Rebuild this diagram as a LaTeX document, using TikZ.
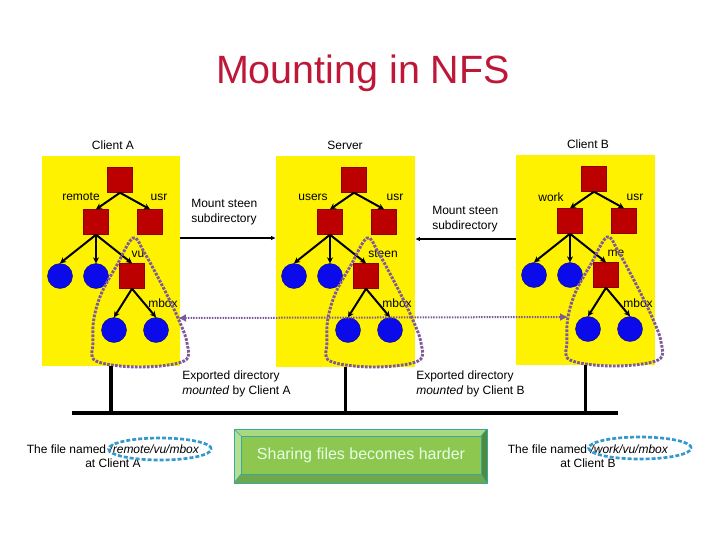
\documentclass[tikz,border=0pt]{standalone}
\usepackage{fontspec}
\setmainfont{Liberation Sans}
\usetikzlibrary{arrows.meta,calc,shapes.geometric}
\definecolor{titlered}{RGB}{190,24,56}
\definecolor{sqred}{RGB}{188,0,0}
\definecolor{cblue}{RGB}{10,10,235}
\definecolor{loopc}{RGB}{126,90,155}
\definecolor{ellc}{RGB}{51,153,204}
\definecolor{gface}{RGB}{141,199,79}
\definecolor{gtop}{RGB}{169,217,127}
\definecolor{gleft}{RGB}{181,224,143}
\definecolor{gright}{RGB}{79,139,63}
\definecolor{gbot}{RGB}{110,168,74}
\definecolor{gline}{RGB}{58,166,166}
\newcommand\fstree[3]{%
\begin{scope}[shift={(#2,#3)}]
 \node[sq] (#1r) at (0,0) {};
 \node[sq] (#1a) at (-24,42) {};
 \node[sq] (#1b) at (30,42) {};
 \node[circ] (#1c) at (-60,96) {};
 \node[circ] (#1e) at (-24,96) {};
 \node[sq] (#1d) at (12,96) {};
 \node[circ] (#1f) at (-6,150) {};
 \node[circ] (#1g) at (36,150) {};
 \draw[tedge] (#1r.south) -- (#1a.north);
 \draw[tedge] (#1r.south) -- (#1b.north);
 \draw[tedge] (#1a.south) -- (#1c.north);
 \draw[tedge] (#1a.south) -- (#1e.north);
 \draw[tedge] (#1a.south) -- (#1d.north);
 \draw[tedge] (#1d.south) -- (#1f.north);
 \draw[tedge] (#1d.south) -- (#1g.north);
 \draw[loopline] plot[smooth cycle, tension=0.6] coordinates {(13,58) (24,72) (43,107) (58,138) (67,163) (64,181) (20,187) (-24,181) (-27,163) (-26,138) (-18,112) (-3,85)};
 \coordinate (#1R) at (58,138);
 \coordinate (#1L) at (-26,138);
\end{scope}}
\begin{document}
\begin{tikzpicture}[x=0.75pt,y=-0.75pt,
  lbl/.style={font=\fontsize{9}{11.25}\selectfont, inner sep=0pt},
  panel/.style={fill=yellow, draw=none, inner sep=0pt},
  sq/.style={fill=sqred, draw=sqred!75!black, line width=0.3pt, minimum size=18.75pt, inner sep=0pt},
  circ/.style={circle, fill=cblue, draw=cblue!60!black, line width=0.3pt, minimum size=18.75pt, inner sep=0pt},
  tedge/.style={line width=1.5pt, -{Stealth[length=4.5pt,width=4.5pt]}},
  loopline/.style={draw=loopc, line width=2.2pt, dash pattern=on 2pt off 1pt},
  dotline/.style={draw=loopc, line width=1.5pt, dash pattern=on 1.1pt off 0.9pt},
  mountline/.style={line width=1.5pt, -{Latex[length=3.5pt,width=3.5pt]}},
  netline/.style={line width=2.8pt},
  fellipse/.style={ellipse, draw=ellc, line width=2pt, dash pattern=on 3pt off 1.5pt, inner sep=0pt, minimum width=77pt, minimum height=16.5pt}
]
\useasboundingbox (0,0) rectangle (720,540);
% title
\node[font=\fontsize{29.6}{36}\selectfont, text=titlered, anchor=base] (title) at (363,83) {Mounting in NFS};
% panels
\node[panel, minimum width=103.5pt, minimum height=157.5pt] (pA) at (111,261) {};
\node[panel, minimum width=104.25pt, minimum height=158.25pt] (pS) at (345.5,261.5) {};
\node[panel, minimum width=104.25pt, minimum height=157.5pt] (pB) at (585.5,260) {};
% panel titles
\node[lbl] (tA) at (113,145) {Client A};
\node[lbl] (tS) at (345,145) {Server};
\node[lbl] (tB) at (588,144) {Client B};
% edge labels
\node[lbl] (lA1) at (81,197) {remote};
\node[lbl] (lA2) at (159,197) {usr};
\node[lbl] (lA3) at (138,254) {vu};
\node[lbl] (lA4) at (163,303) {mbox};
\node[lbl] (lS1) at (313,197) {users};
\node[lbl] (lS2) at (395,197) {usr};
\node[lbl] (lS3) at (383,254) {steen};
\node[lbl] (lS4) at (397,303) {mbox};
\node[lbl] (lB1) at (551,197) {work};
\node[lbl] (lB2) at (635,197) {usr};
\node[lbl] (lB3) at (616,253) {me};
\node[lbl] (lB4) at (638,303) {mbox};
% trees
\fstree{A}{120}{180}
\fstree{S}{354}{180}
\fstree{B}{594}{179}
% mount lines
\coordinate (mA) at (0,238);
\coordinate (mB) at (0,239);
\draw[mountline] (pA.east |- mA) -- (pS.west |- mA);
\draw[mountline] (pB.west |- mB) -- (pS.east |- mB);
\node[lbl, align=left, anchor=west] (mtA) at (191,212) {Mount steen\\subdirectory};
\node[lbl, align=left, anchor=west] (mtB) at (432,219) {Mount steen\\subdirectory};
% dotted export line
\draw[dotline, {Latex[length=6pt,width=6pt]}-{Latex[length=6pt,width=6pt]}] (AR) -- (BL);
% network
\coordinate (busL) at (72,413);
\coordinate (busR) at (618,413);
\draw[netline] (busL) -- (busR);
\draw[netline] (pA.south) -- (pA.south |- busL);
\draw[netline] (pS.south) -- (pS.south |- busL);
\draw[netline] (pB.south) -- (pB.south |- busL);
\node[lbl, align=left, anchor=west] (exA) at (182,383.5) {Exported directory\\\textit{mounted} by Client A};
\node[lbl, align=left, anchor=west] (exB) at (416,383.5) {Exported directory\\\textit{mounted} by Client B};
% file names
\node[lbl, align=center, font=\fontsize{9}{10.5}\selectfont] (fA) at (113,456) {The file named \textit{/remote/vu/mbox}\\at Client A};
\node[fellipse] (eA) at (160,449) {};
\node[lbl, align=center, font=\fontsize{9}{10.5}\selectfont] (fB) at (588,456) {The file named \textit{/work/vu/mbox}\\at Client B};
\node[fellipse] (eB) at (640,448) {};
% green bevel box
\fill[gtop] (234,429) -- (487,429) -- (481,436) -- (241,436) -- cycle;
\fill[gleft] (234,429) -- (241,436) -- (241,474) -- (234,483) -- cycle;
\fill[gright] (487,429) -- (487,483) -- (481,474) -- (481,436) -- cycle;
\fill[gbot] (234,483) -- (487,483) -- (481,474) -- (241,474) -- cycle;
\node[fill=gface, draw=gline, line width=0.5pt, minimum width=180pt, minimum height=28.5pt, inner sep=0pt, text=white!90!green, font=\fontsize{12}{14}\selectfont] (box) at (361,455) {Sharing files becomes harder};
\draw[gline, line width=0.5pt] (234,429) rectangle (487,483);
\draw[gline, line width=0.4pt] (234,429) -- (box.north west) (487,429) -- (box.north east) (234,483) -- (box.south west) (487,483) -- (box.south east);
\end{tikzpicture}
\end{document}
